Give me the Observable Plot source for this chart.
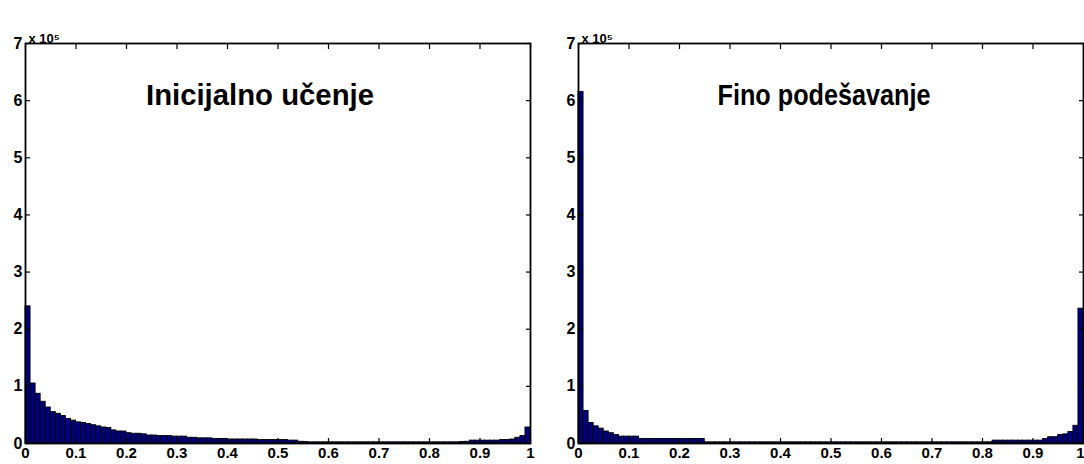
<!DOCTYPE html>
<html>
<head>
<meta charset="utf-8">
<script src="https://cdn.jsdelivr.net/npm/d3@7"></script>
<script src="https://cdn.jsdelivr.net/npm/@observablehq/plot@0.6"></script>
<style>
  html, body { margin: 0; padding: 0; background: #fff; }
  #wrap { display: flex; width: 1084px; height: 464px; overflow: hidden; }
</style>
</head>
<body>
<div id="wrap"></div>
<script>
// Histogram counts per bin of width 0.01 on [0, 1], in units of 10^5
const titleLeft = "Inicijalno učenje";
const titleRight = "Fino podešavanje";
const countsInitial = [
  2.40, 1.05, 0.87, 0.73, 0.63, 0.55, 0.52, 0.48, 0.43, 0.40,
  0.37, 0.36, 0.34, 0.32, 0.30, 0.28, 0.27, 0.23, 0.21, 0.21,
  0.18, 0.17, 0.17, 0.16, 0.14, 0.14, 0.13, 0.13, 0.13, 0.12,
  0.12, 0.12, 0.10, 0.10, 0.09, 0.09, 0.09, 0.08, 0.08, 0.08,
  0.07, 0.07, 0.07, 0.07, 0.07, 0.07, 0.06, 0.06, 0.06, 0.06,
  0.06, 0.06, 0.05, 0.05, 0.03, 0.025, 0.02, 0.02, 0.02, 0.02,
  0.02, 0.02, 0.02, 0.02, 0.02, 0.02, 0.02, 0.02, 0.02, 0.02,
  0.02, 0.02, 0.02, 0.02, 0.02, 0.02, 0.02, 0.02, 0.02, 0.02,
  0.02, 0.02, 0.02, 0.02, 0.02, 0.02, 0.025, 0.03, 0.05, 0.05,
  0.05, 0.05, 0.05, 0.05, 0.06, 0.06, 0.07, 0.10, 0.13, 0.28
];
const countsFine = [
  6.15, 0.57, 0.36, 0.30, 0.26, 0.21, 0.18, 0.15, 0.12, 0.12,
  0.12, 0.12, 0.08, 0.08, 0.08, 0.08, 0.08, 0.08, 0.08, 0.08,
  0.08, 0.08, 0.08, 0.08, 0.08, 0.02, 0.02, 0.02, 0.02, 0.02,
  0.02, 0.02, 0.02, 0.02, 0.02, 0.02, 0.02, 0.02, 0.02, 0.02,
  0.02, 0.02, 0.02, 0.02, 0.02, 0.02, 0.02, 0.02, 0.02, 0.02,
  0.02, 0.02, 0.02, 0.02, 0.02, 0.02, 0.02, 0.02, 0.02, 0.02,
  0.02, 0.02, 0.02, 0.02, 0.02, 0.02, 0.02, 0.02, 0.02, 0.02,
  0.02, 0.02, 0.02, 0.02, 0.02, 0.02, 0.02, 0.02, 0.02, 0.02,
  0.02, 0.02, 0.05, 0.05, 0.05, 0.05, 0.05, 0.05, 0.05, 0.05,
  0.05, 0.05, 0.08, 0.11, 0.11, 0.15, 0.16, 0.20, 0.31, 2.36
];
const xTicks = [0, 0.1, 0.2, 0.3, 0.4, 0.5, 0.6, 0.7, 0.8, 0.9, 1];
const yTicks = [0, 1, 2, 3, 4, 5, 6, 7];
const exponentLabel = "x 10⁵";

const barFill = "#00007f";
const font = "Liberation Sans, Arial, sans-serif";
const fmtX = d => String(+d.toFixed(1));

function makeChart(counts, title, opts) {
  const n = counts.length;
  const bins = counts.map((v, i) => ({x1: i / n, x2: (i + 1) / n, y: v}));
  const lastTick = xTicks[xTicks.length - 1];
  const labelMarks = opts.endAnchorLast
    ? [
        Plot.axisX({anchor: "bottom", ticks: xTicks.slice(0, -1), tickSize: 0, tickPadding: 4, fontSize: 15, fontWeight: "bold", tickFormat: fmtX, label: null}),
        Plot.axisX({anchor: "bottom", ticks: [lastTick], tickSize: 0, tickPadding: 4, fontSize: 15, fontWeight: "bold", tickFormat: fmtX, label: null, textAnchor: "end", dx: 1})
      ]
    : [Plot.axisX({anchor: "bottom", ticks: xTicks, tickSize: 0, tickPadding: 4, fontSize: 15, fontWeight: "bold", tickFormat: fmtX, label: null})];
  const svg = Plot.plot({
    width: 542,
    height: 464,
    marginTop: 43,
    marginBottom: 21,
    marginLeft: opts.marginLeft,
    marginRight: opts.marginRight,
    style: {fontFamily: font, fontSize: "16px", fontWeight: "bold", color: "#000", background: "#fff", overflow: "visible"},
    x: {domain: [0, 1]},
    y: {domain: [0, 7]},
    marks: [
      Plot.rectY(bins, {x1: "x1", x2: "x2", y: "y", fill: barFill, stroke: "#000", strokeWidth: 0.9}),
      // inward ticks
      Plot.axisX({anchor: "bottom", ticks: xTicks, tickSize: 5, dy: -5, tickFormat: () => "", label: null, strokeWidth: 1.2}),
      Plot.axisX({anchor: "top", ticks: xTicks, tickSize: 5, dy: 5, tickFormat: () => "", label: null, strokeWidth: 1.2}),
      Plot.axisY({anchor: "left", ticks: yTicks, tickSize: 5, dx: 5, tickFormat: () => "", label: null, strokeWidth: 1.2}),
      Plot.axisY({anchor: "right", ticks: yTicks, tickSize: 5, dx: -5, tickFormat: () => "", label: null, strokeWidth: 1.2}),
      // tick labels
      ...labelMarks,
      Plot.axisY({anchor: "left", ticks: yTicks, tickSize: 0, tickPadding: 3, fontSize: 16, fontWeight: "bold", tickFormat: d => String(d), label: null}),
      Plot.frame({stroke: "#000", strokeWidth: 1.8}),
      Plot.text([exponentLabel], {text: d => d, frameAnchor: "top-left", textAnchor: "start", lineAnchor: "bottom", dx: 3, dy: -1, fontSize: 13, fontWeight: "bold"}),
      Plot.text([title], {text: d => d, frameAnchor: "top", lineAnchor: "top", dx: opts.titleDx, dy: 41, fontSize: 29, fontWeight: "bold"})
    ]
  });
  svg.querySelectorAll("text").forEach(t => {
    if (t.textContent === title) {
      t.setAttribute("textLength", opts.titleLength);
      t.setAttribute("lengthAdjust", "spacingAndGlyphs");
    }
  });
  return svg;
}

const wrap = document.getElementById("wrap");
wrap.appendChild(makeChart(countsInitial, titleLeft, {marginLeft: 25, marginRight: 12, titleDx: -18, titleLength: 228, endAnchorLast: false}));
wrap.appendChild(makeChart(countsFine, titleRight, {marginLeft: 36, marginRight: 1, titleDx: -7, titleLength: 213, endAnchorLast: true}));
</script>
</body>
</html>
